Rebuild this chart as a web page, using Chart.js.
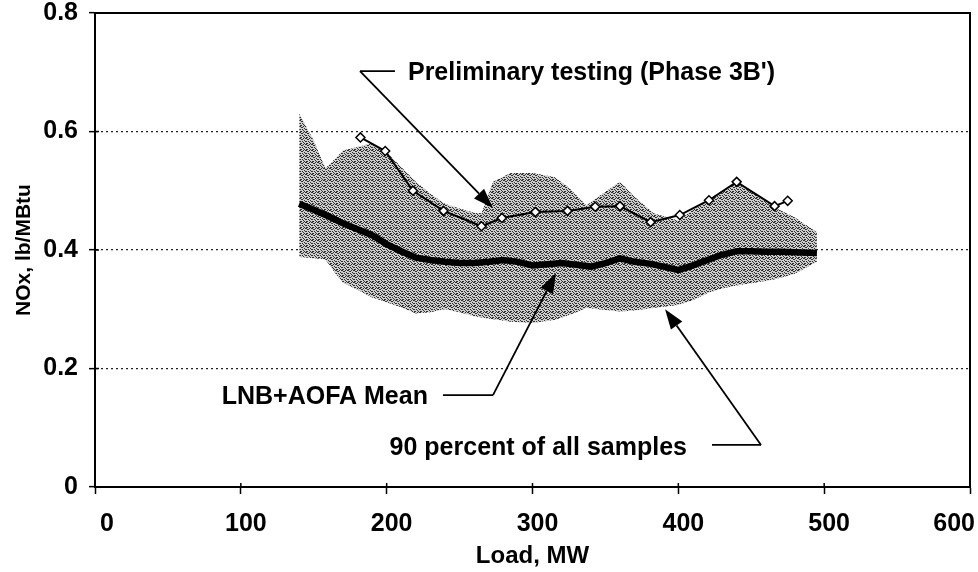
<!DOCTYPE html>
<html>
<head>
<meta charset="utf-8">
<script src="https://cdn.jsdelivr.net/npm/chart.js@4/dist/chart.umd.min.js"></script>
<style>
  html, body { margin: 0; padding: 0; background: #fff; }
  #wrap { width: 978px; height: 572px; }
</style>
</head>
<body>
<div id="wrap"><canvas id="noxChart" width="978" height="572"></canvas></div>
<script>
// Ejes
const xTicks = [0, 100, 200, 300, 400, 500, 600];
const yTicks = [0, 0.2, 0.4, 0.6, 0.8];

// Media LNB+AOFA
const meanLoad = [140, 150, 160, 170, 180, 190, 200, 210, 220, 230, 240, 250, 260, 270, 280, 290, 300, 310, 320, 330, 340, 350, 360, 370, 380, 390, 400, 410, 420, 430, 440, 450, 460, 470, 480, 495];
const meanNox = [0.478, 0.468, 0.457, 0.445, 0.435, 0.425, 0.410, 0.398, 0.387, 0.383, 0.380, 0.378, 0.378, 0.380, 0.383, 0.380, 0.374, 0.376, 0.378, 0.375, 0.372, 0.378, 0.386, 0.380, 0.377, 0.372, 0.366, 0.374, 0.383, 0.392, 0.398, 0.398, 0.397, 0.397, 0.396, 0.395];

// Pruebas preliminares (Phase 3B')
const prelimLoad = [182, 199, 218, 239, 265, 279, 302, 324, 343, 360, 381, 401, 421, 440, 466, 475];
const prelimNox = [0.590, 0.567, 0.500, 0.466, 0.440, 0.454, 0.464, 0.466, 0.473, 0.474, 0.447, 0.459, 0.484, 0.515, 0.474, 0.483];

// Banda del 90 por ciento
const bandLoad = [140, 150, 158, 165, 170, 180, 190, 200, 210, 220, 230, 240, 250, 260, 265, 273, 285, 300, 315, 325, 337, 345, 360, 370, 383, 400, 410, 420, 430, 440, 450, 465, 480, 495];
const bandUpper = [0.631, 0.585, 0.538, 0.555, 0.568, 0.574, 0.580, 0.565, 0.540, 0.515, 0.495, 0.478, 0.470, 0.463, 0.462, 0.515, 0.530, 0.530, 0.523, 0.505, 0.475, 0.490, 0.515, 0.490, 0.462, 0.450, 0.468, 0.484, 0.500, 0.515, 0.500, 0.473, 0.455, 0.430];
const bandLower = [0.388, 0.386, 0.384, 0.360, 0.345, 0.333, 0.320, 0.312, 0.303, 0.293, 0.295, 0.300, 0.295, 0.288, 0.286, 0.283, 0.279, 0.277, 0.282, 0.290, 0.302, 0.300, 0.296, 0.298, 0.302, 0.307, 0.315, 0.327, 0.335, 0.340, 0.344, 0.350, 0.360, 0.380];

const toPoints = (xs, ys) => xs.map((x, i) => ({ x: x, y: ys[i] }));

// Textura punteada para la banda
function stipple() {
    const c = document.createElement('canvas');
    c.width = 6; c.height = 6;
    const g = c.getContext('2d');
    g.fillStyle = '#cdcdcd';
    g.fillRect(0, 0, 6, 6);
    g.fillStyle = '#303030';
    [[0,0],[3,0],[1,1],[4,2],[0,3],[2,3],[5,3],[3,4],[1,5],[4,5],[2,1],[5,0],[0,5]].forEach(p => g.fillRect(p[0], p[1], 1, 1));
    return g.createPattern(c, 'repeat');
}

// Anotaciones (en unidades de datos)
const notes = [
    { text: 'Preliminary testing (Phase 3B\')', tx: 214.6, ty: 0.699, align: 'left', bar: [181.7, 205.7, 0.702], tip: [272.9, 0.471] },
    { text: 'LNB+AOFA Mean', tx: 228.3, ty: 0.152, align: 'right', bar: [272.9, 238.6, 0.155], tip: [316.1, 0.361] },
    { text: '90 percent of all samples', tx: 405.9, ty: 0.066, align: 'right', bar: [456.7, 423.1, 0.071], tip: [390.9, 0.300] }
];

const FONT = '"Liberation Sans", Arial, sans-serif';

const frame = {
    id: 'frame',
    afterDraw(chart) {
        const ctx = chart.ctx;
        const a = chart.chartArea;
        const xs = chart.scales.x, ys = chart.scales.y;
        ctx.save();
        ctx.strokeStyle = '#000';
        ctx.lineWidth = 2;
        ctx.strokeRect(a.left, a.top, a.right - a.left, a.bottom - a.top);
        // marcas hacia dentro
        ctx.lineWidth = 1.5;
        ctx.beginPath();
        xTicks.forEach(v => { const px = xs.getPixelForValue(v); ctx.moveTo(px, a.bottom); ctx.lineTo(px, a.bottom - 4); });
        yTicks.forEach(v => { const py = ys.getPixelForValue(v); ctx.moveTo(a.left, py); ctx.lineTo(a.left + 4, py); });
        ctx.stroke();

        // texto y flechas
        ctx.fillStyle = '#000';
        ctx.font = 'bold 25px ' + FONT;
        ctx.textBaseline = 'middle';
        notes.forEach(n => {
            ctx.textAlign = n.align;
            ctx.fillText(n.text, xs.getPixelForValue(n.tx), ys.getPixelForValue(n.ty));
            const bx1 = xs.getPixelForValue(n.bar[0]);
            const bx2 = xs.getPixelForValue(n.bar[1]);
            const by = ys.getPixelForValue(n.bar[2]);
            const tx = xs.getPixelForValue(n.tip[0]);
            const ty = ys.getPixelForValue(n.tip[1]);
            ctx.lineWidth = 1.8;
            ctx.beginPath();
            ctx.moveTo(bx1, by);
            ctx.lineTo(bx2, by);
            ctx.stroke();
            const ang = Math.atan2(ty - by, tx - bx1);
            const len = 20, wid = 7;
            const baseX = tx - len * Math.cos(ang), baseY = ty - len * Math.sin(ang);
            ctx.beginPath();
            ctx.moveTo(bx1, by);
            ctx.lineTo(baseX, baseY);
            ctx.stroke();
            ctx.beginPath();
            ctx.moveTo(tx, ty);
            ctx.lineTo(baseX + wid * Math.sin(ang), baseY - wid * Math.cos(ang));
            ctx.lineTo(baseX - wid * Math.sin(ang), baseY + wid * Math.cos(ang));
            ctx.closePath();
            ctx.fill();
        });
        ctx.restore();
    }
};

new Chart(document.getElementById('noxChart'), {
    type: 'line',
    data: {
        datasets: [
            {
                label: 'Preliminary testing (Phase 3B\')',
                data: toPoints(prelimLoad, prelimNox),
                borderColor: '#000',
                borderWidth: 2,
                pointStyle: 'rectRot',
                pointRadius: 4.5,
                pointBackgroundColor: '#fff',
                pointBorderColor: '#000',
                pointBorderWidth: 1.5,
                fill: false,
                tension: 0
            },
            {
                label: 'LNB+AOFA Mean',
                data: toPoints(meanLoad, meanNox),
                borderColor: '#000',
                borderWidth: 6.5,
                pointRadius: 0,
                fill: false,
                tension: 0
            },
            {
                label: 'lower',
                data: toPoints(bandLoad, bandLower),
                borderWidth: 0,
                borderColor: 'rgba(0,0,0,0)',
                pointRadius: 0,
                fill: false
            },
            {
                label: '90 percent of all samples',
                data: toPoints(bandLoad, bandUpper),
                borderWidth: 0,
                borderColor: 'rgba(0,0,0,0)',
                backgroundColor: stipple(),
                pointRadius: 0,
                fill: '-1'
            }
        ]
    },
    options: {
        responsive: false,
        animation: false,
        layout: { padding: { top: 13, right: 8, left: 0, bottom: 0 } },
        plugins: {
            legend: { display: false },
            tooltip: { enabled: false }
        },
        scales: {
            x: {
                type: 'linear',
                min: 0,
                max: 600,
                afterBuildTicks: s => { s.ticks = xTicks.map(v => ({ value: v })); },
                afterFit: s => { s.height = 85; s.paddingLeft = 0; s.paddingRight = 0; },
                grid: { drawOnChartArea: false, drawTicks: true, tickLength: 7, tickColor: '#000', tickWidth: 1.5 },
                border: { display: true, color: '#000', width: 2 },
                ticks: { color: '#000', padding: 15, labelOffset: 5, align: 'inner', font: { family: FONT, size: 25, weight: 'bold' }, maxRotation: 0 },
                title: { display: true, text: 'Load, MW', color: '#000', font: { family: FONT, size: 24, weight: 'bold' }, padding: { top: 0, bottom: 1 } }
            },
            y: {
                min: 0,
                max: 0.8,
                z: 1,
                afterBuildTicks: s => { s.ticks = yTicks.map(v => ({ value: v })); },
                afterFit: s => { s.width = 95; s.paddingTop = 0; s.paddingBottom = 0; },
                grid: { color: '#222', lineWidth: 1.3, drawTicks: true, tickLength: 6, tickColor: '#000', tickWidth: 1.5, tickBorderDash: [] },
                border: { display: true, color: '#000', width: 2, dash: [2, 3] },
                ticks: {
                    color: '#000',
                    padding: 11,
                    font: { family: FONT, size: 25, weight: 'bold' },
                    callback: v => v === 0 ? '0' : v.toFixed(1)
                },
                title: { display: true, text: 'NOx, lb/MBtu', color: '#000', font: { family: FONT, size: 21, weight: 'bold' }, padding: { top: 12, bottom: 0 } }
            }
        }
    },
    plugins: [frame]
});
</script>
</body>
</html>
